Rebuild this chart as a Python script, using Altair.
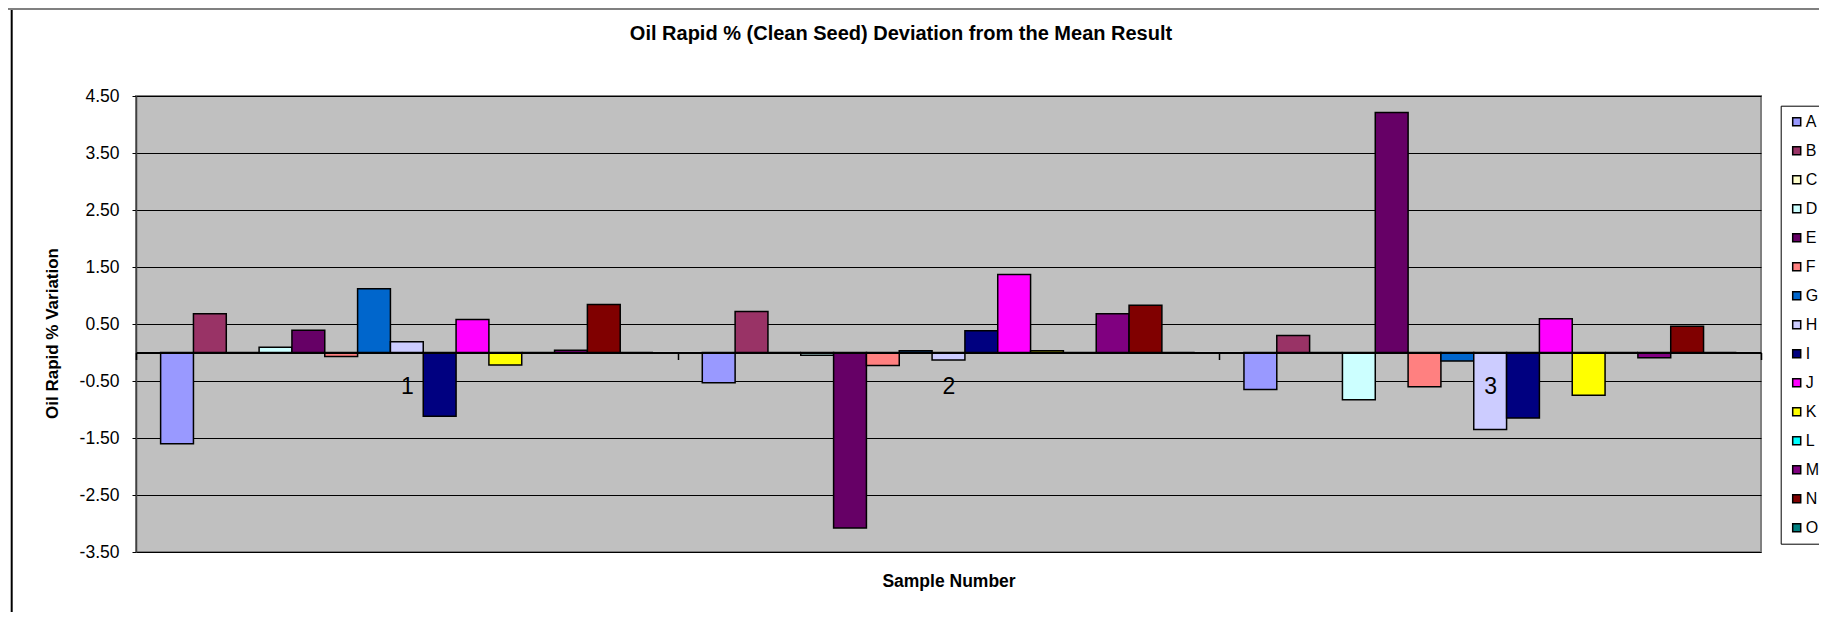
import altair as alt
import pandas as pd

# ---------------- data ----------------
samples = ["1", "2", "3"]
series = ["A", "B", "C", "D", "E", "F", "G", "H", "I", "J", "K", "L", "M", "N", "O"]
sample_1 = [-1.60, 0.68, 0.00, 0.09, 0.39, -0.07, 1.12, 0.19, -1.12, 0.58, -0.22, 0.00, 0.04, 0.84, 0.00]
sample_2 = [-0.53, 0.72, 0.00, -0.05, -3.08, -0.23, 0.03, -0.13, 0.38, 1.37, 0.03, 0.00, 0.68, 0.83, 0.00]
sample_3 = [-0.65, 0.30, 0.00, -0.83, 4.21, -0.60, -0.15, -1.35, -1.15, 0.59, -0.75, 0.00, -0.09, 0.46, 0.00]
colors = ["#9999FF", "#993366", "#FFFFCC", "#CCFFFF", "#660066", "#FF8080", "#0066CC",
          "#CCCCFF", "#000080", "#FF00FF", "#FFFF00", "#00FFFF", "#800080", "#800000", "#008080"]
y_ticks = [4.5, 3.5, 2.5, 1.5, 0.5, -0.5, -1.5, -2.5, -3.5]
title_text = ["Oil Rapid % (Clean Seed) Deviation from the Mean Result"]
x_title = "Sample Number"
y_title = "Oil Rapid % Variation"

rows = []
for s, vals in zip(samples, [sample_1, sample_2, sample_3]):
    for ser, v in zip(series, vals):
        rows.append({"sample": s, "series": ser, "value": v})
df = pd.DataFrame(rows)

FONT = "Liberation Sans"
W, H = 1625, 456
MINUS = "\u2212"

bars = alt.Chart(df).mark_bar(stroke="black", strokeWidth=1.5).encode(
    x=alt.X(
        "sample:N", sort=samples,
        scale=alt.Scale(paddingInner=0, paddingOuter=0),
        axis=alt.Axis(
            orient="bottom", offset=-199.5, zindex=1,
            domainColor="black", domainWidth=2,
            tickBand="extent", tickSize=7, tickColor="black", tickWidth=1.5,
            labelAngle=0, labelFontSize=23, labelPadding=16, labelFont=FONT, labelColor="black",
            title=x_title, titleFont=FONT, titleFontSize=17.5, titleFontWeight="bold",
            titleColor="black", titleY=228.5, titleBaseline="middle", grid=False,
        ),
    ),
    xOffset=alt.XOffset("series:N", sort=series,
                        scale=alt.Scale(paddingInner=0, paddingOuter=0.75)),
    y=alt.Y(
        "value:Q",
        scale=alt.Scale(domain=[-3.5, 4.5], nice=False, zero=False),
        axis=alt.Axis(
            values=y_ticks,
            labelExpr=f"replace(format(datum.value, '.2f'), '{MINUS}', '-')",
            labelFont=FONT, labelFontSize=17.5, labelColor="black", labelPadding=13,
            tickSize=4, tickColor="black", tickWidth=1,
            grid=True, gridColor="black", gridWidth=1,
            domainColor="#404040", domainWidth=1.5,
            title=y_title, titleFont=FONT, titleFontSize=17, titleFontWeight="bold",
            titleColor="black", titleX=-84, titleY=237, titleAngle=270,
            titleAlign="center", titleBaseline="middle",
        ),
    ),
    fill=alt.Fill(
        "series:N", sort=series,
        scale=alt.Scale(domain=series, range=colors),
        legend=alt.Legend(
            orient="none", legendX=1644.7, legendY=9.7, title=None,
            symbolType="square", symbolSize=64, symbolStrokeColor="black",
            symbolStrokeWidth=1.5, symbolOffset=0,
            labelFont=FONT, labelFontSize=16, labelColor="black", labelOffset=1,
            rowPadding=13, padding=8, strokeColor="black", fillColor="white",
        ),
    ),
)

title_df = pd.DataFrame({"text": title_text})
title_layer = alt.Chart(title_df).mark_text(
    font=FONT, fontSize=20, fontWeight="bold", align="center", baseline="middle", color="black"
).encode(x=alt.value(765), y=alt.value(-62), text="text:N")

frame_df = pd.DataFrame({"k": [0]})
left_frame = alt.Chart(frame_df).mark_rule(color="black", strokeWidth=2).encode(
    x=alt.value(-124.3), y=alt.value(-88), y2=alt.value(516))
top_frame = alt.Chart(frame_df).mark_rule(color="#808080", strokeWidth=2).encode(
    x=alt.value(-128), x2=alt.value(1691), y=alt.value(-87))

chart = alt.layer(bars, title_layer, left_frame, top_frame).properties(
    width=W, height=H,
    autosize=alt.AutoSizeParams(type="none"),
    padding={"left": 128, "top": 88, "right": 58, "bottom": 60},
    background="white",
).configure_view(fill="#C0C0C0", stroke="#808080", strokeWidth=2)

chart.save("out.html", embed_options={"renderer": "svg", "actions": False})
